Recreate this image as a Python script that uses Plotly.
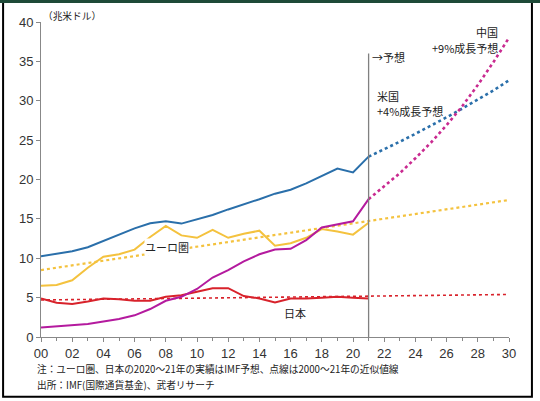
import plotly.graph_objects as go

# actual GDP, trillion USD, 2000-2021
years = list(range(2000, 2022))
us = [10.25, 10.6, 10.9, 11.4, 12.2, 13.0, 13.8, 14.45, 14.7, 14.4, 15.0,
      15.5, 16.2, 16.8, 17.5, 18.2, 18.7, 19.5, 20.5, 21.4, 20.9, 22.9]
china = [1.2, 1.35, 1.47, 1.66, 1.96, 2.29, 2.75, 3.55, 4.6, 5.1, 6.1,
         7.55, 8.5, 9.6, 10.5, 11.1, 11.2, 12.3, 13.9, 14.3, 14.7, 17.5]
euro = [6.5, 6.6, 7.2, 8.8, 10.2, 10.5, 11.1, 12.7, 14.1, 12.9, 12.6,
        13.6, 12.6, 13.1, 13.5, 11.6, 11.9, 12.6, 13.7, 13.4, 13.0, 14.5]
japan = [4.9, 4.35, 4.2, 4.5, 4.9, 4.8, 4.6, 4.6, 5.1, 5.3, 5.75,
         6.2, 6.2, 5.2, 4.9, 4.4, 4.9, 4.9, 5.0, 5.1, 5.0, 4.9]

# forecasts 2021-2030
fc_years = list(range(2021, 2031))
us_fc = [22.9, 23.8, 24.8, 25.8, 26.8, 27.9, 29.0, 30.1, 31.3, 32.6]
china_fc = [17.5, 19.1, 20.8, 22.7, 24.7, 26.9, 29.3, 32.0, 34.9, 38.0]

# trend lines (end points)
trend_years = [2000, 2030]
euro_trend = [8.5, 17.4]
japan_trend = [4.7, 5.4]

tick_years = list(range(2000, 2031, 2))
tick_labels = ["%02d" % (y % 100) for y in tick_years]

BLUE = "#2A6FAA"
MAGENTA = "#B41A9E"
PINK = "#C92A90"
YELLOW = "#F4C23E"
RED = "#D8222B"
JP = "Noto Sans CJK JP"

fig = go.Figure()
fig.add_trace(go.Scatter(x=trend_years, y=euro_trend, mode="lines",
                         line=dict(color=YELLOW, width=2.2, dash="dot")))
fig.add_trace(go.Scatter(x=trend_years, y=japan_trend, mode="lines",
                         line=dict(color=RED, width=1.6, dash="dot")))
fig.add_trace(go.Scatter(x=fc_years, y=us_fc, mode="lines",
                         line=dict(color=BLUE, width=2.6, dash="dot")))
fig.add_trace(go.Scatter(x=fc_years, y=china_fc, mode="lines",
                         line=dict(color=PINK, width=2.6, dash="dot")))
fig.add_trace(go.Scatter(x=years, y=euro, mode="lines", line=dict(color=YELLOW, width=2)))
fig.add_trace(go.Scatter(x=years, y=japan, mode="lines", line=dict(color=RED, width=2)))
fig.add_trace(go.Scatter(x=years, y=china, mode="lines", line=dict(color=MAGENTA, width=2)))
fig.add_trace(go.Scatter(x=years, y=us, mode="lines", line=dict(color=BLUE, width=2)))

fig.update_layout(width=540, height=401, showlegend=False,
                  plot_bgcolor="white", paper_bgcolor="white",
                  margin=dict(l=41, r=31, t=22, b=64),
                  font=dict(family="Liberation Sans", size=13, color="#333"))

fig.update_xaxes(range=[2000, 2030], tickvals=tick_years, ticktext=tick_labels,
                 showgrid=False, zeroline=False, showline=True, linecolor="#888",
                 linewidth=1, ticks="outside", ticklen=4, tickcolor="#888",
                 minor=dict(dtick=1, tick0=2000, ticks="outside", ticklen=3, tickcolor="#888"))
fig.update_yaxes(range=[0, 40], dtick=5, showgrid=False, zeroline=False,
                 showline=True, linecolor="#888", linewidth=1,
                 ticks="outside", ticklen=4, tickcolor="#888")

# forecast divider
fig.add_shape(type="line", x0=2021, x1=2021, y0=0, y1=36, line=dict(color="#808080", width=1.3))

# frame
fig.add_shape(type="rect", xref="paper", yref="paper", x0=-0.081, x1=1.049, y0=-0.19, y1=1.064,
              line=dict(color="black", width=2), layer="below")
fig.add_shape(type="rect", xref="paper", yref="paper", x0=-0.09, x1=1.07, y0=1.06, y1=1.072,
              fillcolor="#1E4A38", line=dict(width=0))

ann = dict(showarrow=False, yanchor="middle", font=dict(family=JP, size=11, color="#222"))
fig.add_annotation(x=2021, y=35.6, text="→予想", xanchor="left", xshift=1, **ann)
fig.add_annotation(x=2021.4, y=30.6, text="米国", xanchor="left", **ann)
fig.add_annotation(x=2021.4, y=28.7, text="+4%成長予想", xanchor="left", **ann)
fig.add_annotation(x=2029.4, y=38.7, text="中国", xanchor="right", **ann)
fig.add_annotation(x=2029.4, y=36.7, text="+9%成長予想", xanchor="right", **ann)
fig.add_annotation(x=2008.1, y=11.4, text="ユーロ圏", bgcolor="white", borderpad=0, **ann)
fig.add_annotation(x=2016.3, y=3.05, text="日本", **ann)

note = dict(showarrow=False, xref="paper", yref="paper", xanchor="left", yanchor="middle",
            font=dict(family=JP, size=9.7, color="#222"))
fig.add_annotation(x=-0.012, y=-0.102, text="注：ユーロ圏、日本の2020～21年の実績はIMF予想、点線は2000～21年の近似値線", **note)
fig.add_annotation(x=-0.012, y=-0.152, text="出所：IMF(国際通貨基金)、武者リサーチ", **note)
fig.add_annotation(x=0.0, y=1.019, text="（兆米ドル）", xanchor="left", yanchor="middle", showarrow=False,
                   xref="paper", yref="paper", font=dict(family=JP, size=9.7, color="#222"))

# drop the browser's default page margin so the figure sits at the top-left corner
fig.write_html("out.html", config={"displayModeBar": False},
               post_script="document.body.style.margin='0';")
